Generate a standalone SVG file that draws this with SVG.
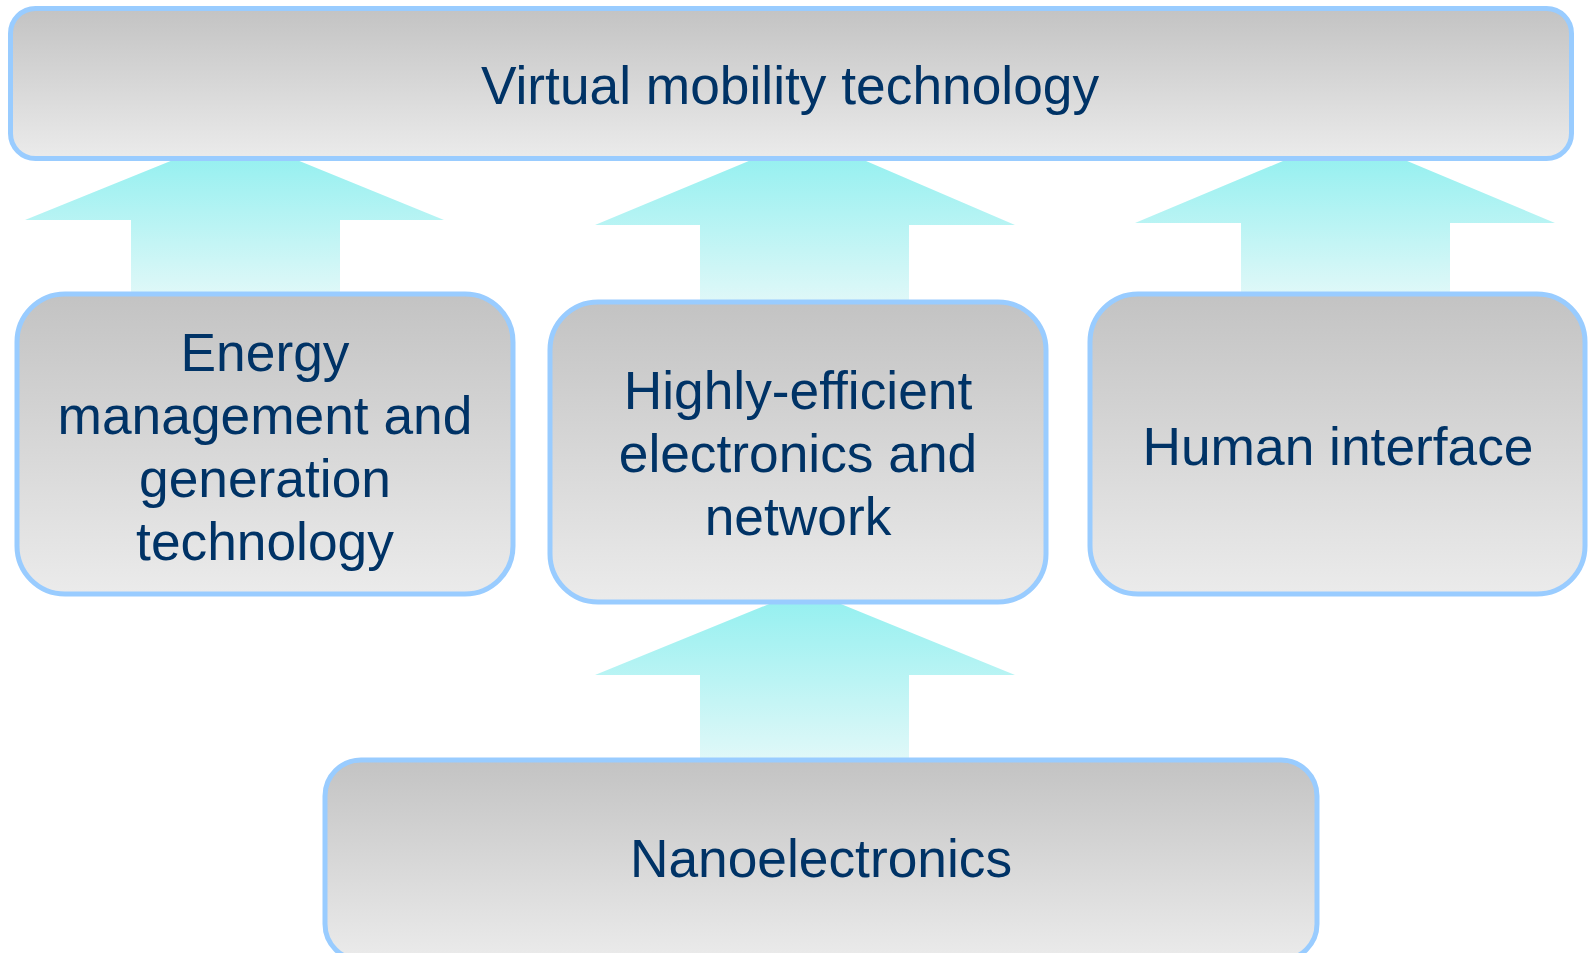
<svg xmlns="http://www.w3.org/2000/svg" width="1588" height="953" viewBox="0 0 1588 953">
<defs>
<linearGradient id="boxg" x1="0" y1="0" x2="0" y2="1">
<stop offset="0" stop-color="#c3c3c3"/>
<stop offset="1" stop-color="#ebebeb"/>
</linearGradient>
<linearGradient id="arrg" x1="0" y1="0" x2="0" y2="1">
<stop offset="0" stop-color="#96f0f0"/>
<stop offset="1" stop-color="#e0f8f8"/>
</linearGradient>
<style>
.box{fill:url(#boxg);stroke:#99ccff;stroke-width:5}
.arr{fill:url(#arrg)}
.t{font-family:"Liberation Sans",Arial,sans-serif;font-size:53.3px;fill:#003366;text-anchor:middle}
</style>
</defs>
<g id="connectors">
<polygon class="arr" points="131,296 131,220 25,220 178,158 292,158 444,220 340,220 340,296"/>
<polygon class="arr" points="700,304 700,225 595,225 756,158 859,158 1015,225 909,225 909,304"/>
<polygon class="arr" points="1241,296 1241,223 1135,223 1290,158 1400,158 1555,223 1450,223 1450,296"/>
<polygon class="arr" points="700,760 700,675 595,675 774,602 836,602 1015,675 909,675 909,760"/>
</g>
<g id="node-top">
<rect class="box" x="10.5" y="8.5" width="1561" height="150" rx="25"/>
<text class="t" x="790" y="104">Virtual mobility technology</text>
</g>
<g id="node-energy">
<rect class="box" x="17" y="294" width="496" height="300" rx="48"/>
<text class="t" x="265" y="371">Energy</text>
<text class="t" x="265" y="434">management and</text>
<text class="t" x="265" y="497">generation</text>
<text class="t" x="265" y="560">technology</text>
</g>
<g id="node-highly">
<rect class="box" x="550" y="302" width="496" height="300" rx="48"/>
<text class="t" x="798" y="409">Highly-efficient</text>
<text class="t" x="798" y="472">electronics and</text>
<text class="t" x="798" y="535">network</text>
</g>
<g id="node-human">
<rect class="box" x="1090" y="294" width="495" height="300" rx="48"/>
<text class="t" x="1338" y="465">Human interface</text>
</g>
<g id="node-nano">
<rect class="box" x="325" y="760" width="992" height="200" rx="36"/>
<text class="t" x="821" y="877">Nanoelectronics</text>
</g>
</svg>
